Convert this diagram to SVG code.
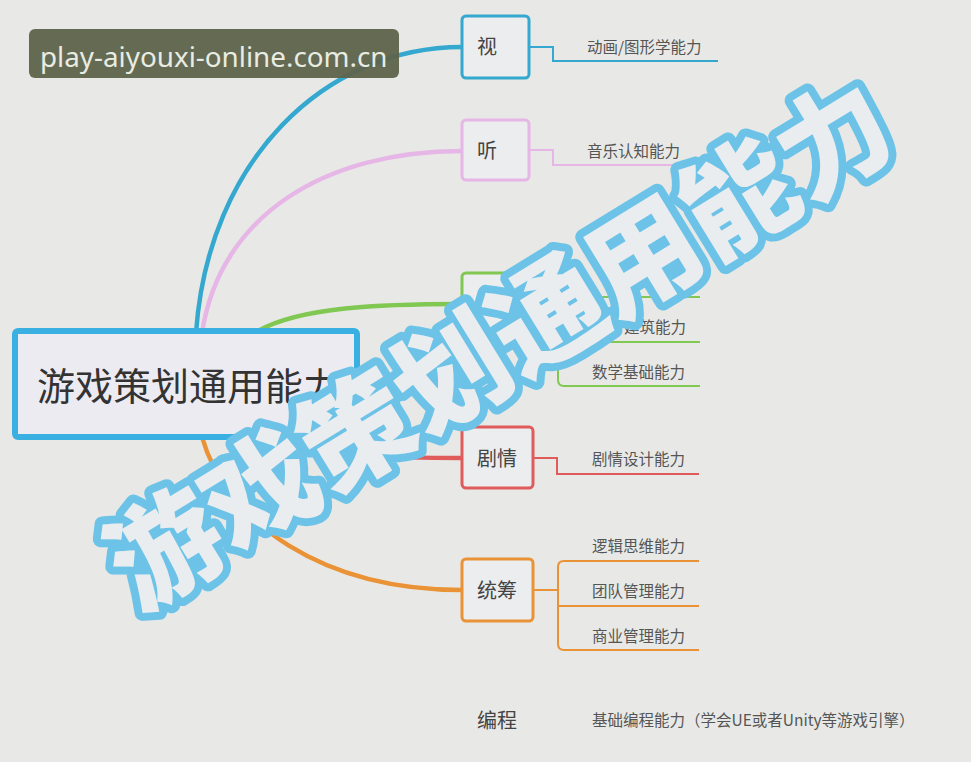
<svg xmlns="http://www.w3.org/2000/svg" width="971" height="762" viewBox="0 0 971 762">
<defs>
<style>
.bg{fill:#e8e9e6}
.node{fill:#ecedee;stroke-width:3}
.ntext{font-family:"Noto Sans CJK SC","Noto Sans",sans-serif;font-size:20px;fill:#444}
.ltext{font-family:"Noto Sans CJK SC","Noto Sans",sans-serif;font-size:15.5px;fill:#555}
.curve{fill:none;stroke-width:4.5;stroke-linecap:round}
.br{fill:none;stroke-width:2}
.blue{stroke:#34a8cf}
.pink{stroke:#e6b6e6}
.green{stroke:#80c852}
.red{stroke:#e05c5c}
.orange{stroke:#ea9236}
</style>
</defs>
<rect class="bg" x="0" y="0" width="971" height="762"/>

<g id="connectors">
  <path class="curve blue" d="M 196 333 C 208 160, 325 47, 462 47"/>
  <path class="curve pink" d="M 202 333 C 220 215, 325 151, 462 151"/>
  <path class="curve green" d="M 258 331 C 300 307, 380 304, 462 304"/>
  <path class="curve red" d="M 320 437 C 345 458, 400 458, 462 458" stroke-width="6"/>
  <path class="curve orange" d="M 202 437 C 226 522, 322 590, 462 590"/>

  <path class="br blue" d="M 529 47 H 553 V 61 H 718"/>
  <path class="br pink" d="M 529 150 H 553 V 165 H 700"/>
  <path class="br green" d="M 533 304 H 558 M 700 297 H 564 Q 558 297 558 303 V 380 Q 558 386 564 386 H 700 M 558 342 H 700"/>
  <path class="br red" d="M 533 458 H 557 V 474 H 699"/>
  <path class="br orange" d="M 533 590 H 558 M 699 561 H 564 Q 558 561 558 567 V 644 Q 558 650 564 650 H 699 M 558 606 H 699"/>
</g>

<g id="root">
  <rect x="15" y="331" width="342" height="106" rx="3" fill="#ecebf1" stroke="#3ab0e2" stroke-width="6"/>
  <text x="37" y="400" font-family="'Noto Sans CJK SC','Noto Sans',sans-serif" font-size="38" fill="#333">游戏策划通用能力</text>
</g>

<g id="node-shi">
  <rect class="node blue" x="462" y="16" width="67" height="62" rx="4"/>
  <text class="ntext" x="477" y="54">视</text>
  <text class="ltext" x="587" y="53">动画/图形学能力</text>
</g>

<g id="node-ting">
  <rect class="node pink" x="462" y="120" width="67" height="60" rx="4"/>
  <text class="ntext" x="477" y="158">听</text>
  <text class="ltext" x="587" y="157">音乐认知能力</text>
</g>

<g id="node-green">
  <rect class="node green" x="462" y="273" width="71" height="62" rx="4"/>
  <text class="ltext" x="624" y="333">建筑能力</text>
  <text class="ltext" x="592" y="378">数学基础能力</text>
</g>

<g id="node-juqing">
  <rect class="node red" x="462" y="427" width="71" height="61" rx="4"/>
  <text class="ntext" x="477" y="466">剧情</text>
  <text class="ltext" x="592" y="465">剧情设计能力</text>
</g>

<g id="node-tongchou">
  <rect class="node orange" x="462" y="559" width="71" height="62" rx="4"/>
  <text class="ntext" x="477" y="598">统筹</text>
  <text class="ltext" x="592" y="552">逻辑思维能力</text>
  <text class="ltext" x="592" y="597">团队管理能力</text>
  <text class="ltext" x="592" y="642">商业管理能力</text>
</g>

<g id="node-biancheng">
  <text class="ntext" x="477" y="728" font-size="22">编程</text>
  <text class="ltext" x="592" y="726">基础编程能力（学会UE或者Unity等游戏引擎）</text>
</g>

<g id="watermark-url">
  <rect x="29" y="29" width="370" height="49" rx="6" fill="#5e634b" fill-opacity="0.95"/>
  <text x="40" y="67" font-family="'Noto Sans','Open Sans',sans-serif" font-size="27.8" fill="#e8ece2">play-aiyouxi-online.com.cn</text>
</g>

<g id="watermark-title">
  <text x="500" y="385" transform="rotate(-31.5 500 345)" text-anchor="middle" font-family="'Noto Sans CJK SC','Noto Sans',sans-serif" font-size="112" font-weight="900" fill="#eaedf0" stroke="#6cc3e7" stroke-width="16" stroke-linejoin="round" paint-order="stroke">游戏策划通用能力</text>
</g>
</svg>
